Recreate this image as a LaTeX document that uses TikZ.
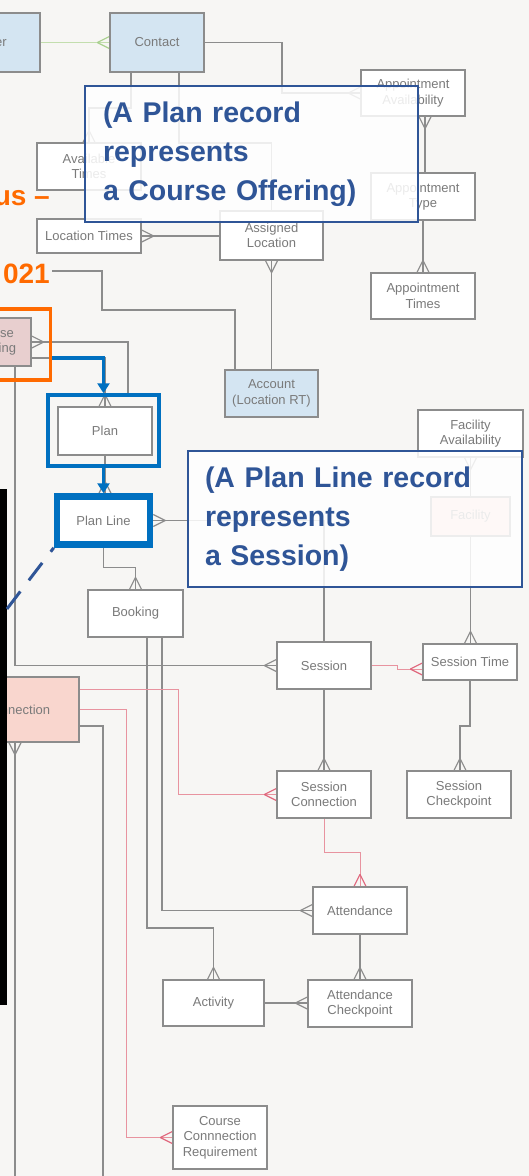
\documentclass[tikz,border=0pt]{standalone}
\usepackage{fontspec}
\setmainfont{Liberation Sans}
\usetikzlibrary{arrows.meta,decorations.markings}
\definecolor{cgray}{HTML}{8C8C8C}
\definecolor{tgray}{HTML}{7A7A7A}
\definecolor{cpink}{HTML}{E8939F}
\definecolor{cpinkD}{HTML}{E0667C}
\definecolor{cgreen}{HTML}{C3DEAE}
\definecolor{cgreenD}{HTML}{A9D08E}
\definecolor{lblue}{HTML}{D4E5F2}
\definecolor{lpink}{HTML}{F9D6CE}
\definecolor{opink}{HTML}{E8CFCF}
\definecolor{fblue}{HTML}{0070C0}
\definecolor{dblue}{HTML}{2F5597}
\definecolor{orng}{HTML}{FF6A00}
\definecolor{bgc}{HTML}{F7F6F4}
\pgfdeclarelayer{back}
\pgfdeclarelayer{conn}
\pgfsetlayers{back,conn,main}
\tikzset{
  ent/.style={draw=cgray, line width=1.3pt, fill=white, text=tgray,
    font=\fontsize{13}{15.5}\selectfont, align=center, inner sep=0pt},
  conn/.style={draw=cgray, line width=1.2pt},
  pinkc/.style={draw=cpink, line width=1pt},
  greenc/.style={draw=cgreen, line width=1.2pt},
  crow/.style={postaction={decorate,decoration={markings,
    mark=at position 0.99999 with {\draw[line width=1.2pt,#1] (-12pt,0pt)--(0pt,6pt) (-12pt,0pt)--(0pt,-6pt);}}}},
  crow/.default=cgray,
  bluearrow/.style={draw=fblue, line width=3.5pt, -{Triangle[width=12pt,length=10pt]}},
  noteframe/.style={draw=dblue, line width=1.5pt, fill=white, fill opacity=0.85, text opacity=1,
    text=dblue, font=\bfseries\fontsize{28.5}{39}\selectfont, align=left, inner ysep=0pt},
  titletext/.style={anchor=base east, text=orng, font=\bfseries\fontsize{28}{34}\selectfont, inner sep=0pt}
}
\begin{document}
\begin{tikzpicture}[x=1pt,y=-1pt]
\useasboundingbox (0,0) rectangle (529,1176);
\begin{pgfonlayer}{back}
\fill[bgc] (0,0) rectangle (529,1176);
\end{pgfonlayer}
\begin{scope}
\clip (0,0) rectangle (529,1176);
% entities
\node[ent,fill=lblue,minimum width=94pt,minimum height=59pt] (user) at (-7,42.5) {User};
\node[ent,fill=lblue,minimum width=94pt,minimum height=59pt] (contact) at (157,42.5) {Contact};
\node[ent,minimum width=104pt,minimum height=46pt] (apptavail) at (413,93) {Appointment\\Availability};
\node[ent,minimum width=104pt,minimum height=47pt] (appttype) at (423,196.5) {Appointment\\Type};
\node[ent,minimum width=104pt,minimum height=46pt] (appttimes) at (423,296) {Appointment\\Times};
\node[ent,minimum width=104pt,minimum height=47pt] (availtimes) at (89,166.5) {Available\\Times};
\node[ent,minimum width=104pt,minimum height=34pt] (loctimes) at (89,236) {Location Times};
\node[ent,minimum width=103pt,minimum height=49pt] (assignedloc) at (271.5,235.5) {Assigned\\Location};
\node[ent,fill=lblue,minimum width=93pt,minimum height=47pt] (account) at (271.5,393.5) {Account\\(Location RT)};
\node[ent,fill=opink,minimum width=76pt,minimum height=48pt] (courseoff) at (-7,342) {Course\\Offering};
\node[ent,minimum width=94pt,minimum height=48pt] (plan) at (105,431) {Plan};
\node[ent,draw=fblue,line width=6.5pt,minimum width=93pt,minimum height=48pt] (planline) at (103.5,520.5) {Plan Line};
\node[ent,minimum width=95pt,minimum height=47pt] (booking) at (135.5,613.5) {Booking};
\node[ent,minimum width=94pt,minimum height=47pt] (session) at (324,665.5) {Session};
\node[ent,minimum width=94pt,minimum height=36pt] (sessiontime) at (470,662) {Session Time};
\node[ent,minimum width=105pt,minimum height=47pt] (facilityavail) at (470.5,433.5) {Facility\\Availability};
\node[ent,fill=lpink,minimum width=79pt,minimum height=39pt] (facility) at (470.5,516.5) {Facility};
\node[ent,minimum width=94pt,minimum height=47pt] (sessconn) at (324,794.5) {Session\\Connection};
\node[ent,minimum width=104pt,minimum height=47pt] (sesscheck) at (459,794.5) {Session\\Checkpoint};
\node[ent,minimum width=94pt,minimum height=47pt] (attendance) at (360,910.5) {Attendance};
\node[ent,minimum width=101pt,minimum height=46pt] (activity) at (213.5,1003) {Activity};
\node[ent,minimum width=104pt,minimum height=47pt] (attcheck) at (360,1003.5) {Attendance\\Checkpoint};
\node[ent,fill=lpink,minimum width=169pt,minimum height=65pt] (courseconn) at (-5.5,709.5) {Course Connection};
\node[ent,minimum width=94pt,minimum height=63pt] (ccreq) at (220,1137.5) {Course\\Connnection\\Requirement};
% highlight frames
\node[draw=fblue,line width=3.5pt,minimum width=111pt,minimum height=71pt,inner sep=0pt] (planframe) at (103.5,430.5) {};
\node[draw=orng,line width=3.5pt,minimum width=70.5pt,minimum height=71pt,inner sep=0pt] (orangeframe) at (15.25,344.5) {};
\draw[bluearrow] (orangeframe.east |- 0,358) -| (planframe.north);
\draw[bluearrow] (planframe.south) -- (planline.north);
% black bar
\fill[black] (0,489) rectangle (7,1005);
% notes
\node[noteframe,inner xsep=18pt,text width=297pt,minimum height=136pt] (note1) at (251.5,154) {(A Plan record\\represents\\a Course Offering)};
\node[noteframe,inner xsep=17pt,text width=300pt,minimum height=136pt] (note2) at (355,519) {(A Plan Line record\\represents\\a Session)};
% title fragments
\node[titletext] (title1) at (50,205) {us –};
\node[titletext] (title2) at (50,283) {021};
% dashed pointer
\coordinate (dashend) at (0,618);
\draw[dblue, line width=3pt, dash pattern=on 22pt off 14pt, dash phase=17pt] (planline.south west) -- (dashend);
\end{scope}
\begin{pgfonlayer}{conn}
\clip (0,0) rectangle (529,1176);
\draw[greenc, crow=cgreenD] (user.east) -- (contact.west);
\draw[conn, crow] (contact.east) -- (282,42.5) |- (apptavail.west);
\draw[conn, crow] (425,0 |- appttype.north) -- (425,0 |- apptavail.south);
\draw[conn, crow] (appttype.south) -- (appttimes.north);
\draw[conn, crow] (131,0 |- contact.south) -- (131,108) -| (availtimes.north);
\draw[conn] (179,0 |- contact.south) -- (179,143) -| (assignedloc.north);
\draw[conn, crow] (assignedloc.west |- loctimes.east) -- (loctimes.east);
\draw[conn, crow] (account.north) -- (assignedloc.south);
\coordinate (offleft) at (52,271);
\draw[conn] (offleft) -- (102,271) -- (102,310) -| (235,0 |- account.north);
\draw[conn, crow] (128,0 |- planframe.north) |- (courseoff.east);
\draw[conn, crow] (courseoff.east |- 0,358) -| (plan.north);
\draw[conn, crow] (plan.south) -- (plan.south |- planline.north);
\draw[conn, crow] (session.north) |- (planline.east);
\draw[conn, crow] (planline.south) -- ++(0,20) -| (booking.north);
\draw[conn, crow] (147,0 |- booking.south) -- (147,928) -| (activity.north);
\draw[conn, crow] (162,0 |- booking.south) |- (attendance.west);
\draw[conn, crow] (15,0 |- courseoff.south) |- (session.west);
\draw[pinkc, crow=cpinkD] (session.east) -- (397,665.5) -- (397,669) -- (sessiontime.west |- 0,669);
\draw[conn, crow] (facility.north) -- (facilityavail.south);
\draw[conn, crow] (facility.south) -- (facility.south |- sessiontime.north);
\draw[conn, crow] (session.south) -- (sessconn.north);
\draw[conn, crow] (sessiontime.south) -- (470,726) -- (460,726) -- (460,0 |- sesscheck.north);
\draw[pinkc, crow=cpinkD] (sessconn.south) -- (324,852) -| (attendance.north);
\draw[conn, crow] (attendance.south) -- (attcheck.north);
\draw[conn, crow] (activity.east) -- (activity.east -| attcheck.west);
\draw[pinkc, crow=cpinkD] (courseconn.east |- 0,689) -- (178,689) |- (sessconn.west);
\draw[pinkc, crow=cpinkD] (courseconn.east |- 0,709) -- (126,709) |- (ccreq.west);
\coordinate (offb1) at (103,1180);
\draw[conn] (courseconn.east |- 0,726) -| (offb1);
\coordinate (offb2) at (15,1180);
\draw[conn, crow] (offb2) -- (15,0 |- courseconn.south);
\end{pgfonlayer}
\end{tikzpicture}
\end{document}
